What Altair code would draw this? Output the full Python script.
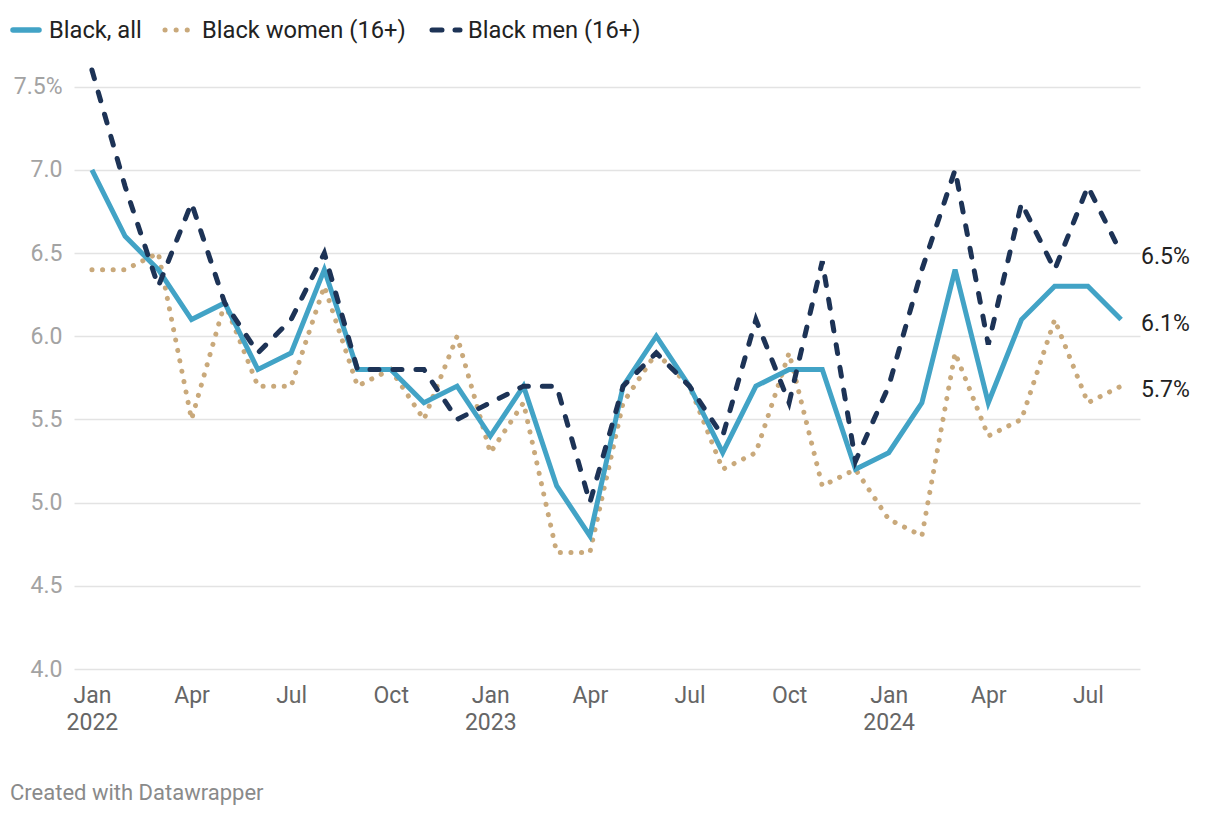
import json
import altair as alt
import pandas as pd

# ---------------- data ----------------
month_index = list(range(32))  # Jan 2022 ... Aug 2024

black_all = [7.0, 6.6, 6.4, 6.1, 6.2, 5.8, 5.9, 6.4, 5.8, 5.8, 5.6, 5.7,
             5.4, 5.7, 5.1, 4.8, 5.7, 6.0, 5.7, 5.3, 5.7, 5.8, 5.8, 5.2,
             5.3, 5.6, 6.4, 5.6, 6.1, 6.3, 6.3, 6.1]
black_women = [6.4, 6.4, 6.5, 5.5, 6.2, 5.7, 5.7, 6.3, 5.7, 5.8, 5.5, 6.0,
               5.3, 5.6, 4.7, 4.7, 5.6, 5.9, 5.7, 5.2, 5.3, 5.9, 5.1, 5.2,
               4.9, 4.8, 5.9, 5.4, 5.5, 6.1, 5.6, 5.7]
black_men = [7.6, 6.9, 6.3, 6.8, 6.2, 5.9, 6.1, 6.5, 5.8, 5.8, 5.8, 5.5,
             5.6, 5.7, 5.7, 5.0, 5.7, 5.9, 5.7, 5.4, 6.1, 5.6, 6.45, 5.25,
             5.7, 6.4, 7.0, 5.95, 6.8, 6.4, 6.9, 6.5]

series_names = ["Black, all", "Black women (16+)", "Black men (16+)"]

tick_values = [0, 3, 6, 9, 12, 15, 18, 21, 24, 27, 30]
tick_month = ["Jan", "Apr", "Jul", "Oct", "Jan", "Apr", "Jul", "Oct", "Jan", "Apr", "Jul"]
tick_year = ["2022", "", "", "", "2023", "", "", "", "2024", "", ""]
y_ticks = [4.0, 4.5, 5.0, 5.5, 6.0, 6.5, 7.0, 7.5]
credit_text = "Created with Datawrapper"

# ---------------- tables ----------------
rows = []
for name, vals in zip(series_names, [black_all, black_women, black_men]):
    for i, v in zip(month_index, vals):
        rows.append({"series": name, "m": i, "v": v})
df = pd.DataFrame(rows)

end_rows = []
for name, vals in zip(series_names, [black_all, black_women, black_men]):
    end_rows.append({"series": name, "m": month_index[-1], "v": vals[-1],
                     "label": f"{vals[-1]:.1f}%"})
df_end = pd.DataFrame(end_rows)

FONT = "Roboto"
C_ALL = "#42a3c6"
C_WOMEN = "#c9a97b"
C_MEN = "#1d3356"

x_scale = alt.Scale(domain=[-0.54, 31.57], nice=False, zero=False)
y_scale = alt.Scale(domain=[4.0, 7.6], nice=False, zero=False)

month_js = json.dumps(tick_month)
year_js = json.dumps(tick_year)
x_label_expr = (f"{year_js}[datum.value/3] != '' ? "
                f"[{month_js}[datum.value/3], {year_js}[datum.value/3]] : "
                f"{month_js}[datum.value/3]")

x_axis = alt.Axis(values=tick_values, labelExpr=x_label_expr, title=None,
                  grid=False, domain=False, ticks=False, labelPadding=15,
                  labelFontSize=23, labelColor="#666666", labelFont=FONT,
                  labelLineHeight=27, labelFlush=False, labelOverlap=False)
y_axis = alt.Axis(values=y_ticks,
                  labelExpr="datum.value == 7.5 ? '7.5%' : format(datum.value, '.1f')",
                  title=None, grid=True, gridColor="#e3e3e3", gridWidth=1.6,
                  domain=False, ticks=False, labelPadding=12,
                  labelFontSize=23, labelColor="#a3a3a3", labelFont=FONT)

X = alt.X("m:Q", scale=x_scale, axis=x_axis)
Y = alt.Y("v:Q", scale=y_scale, axis=y_axis)

base = alt.Chart(df)

line_women = base.transform_filter(alt.datum.series == series_names[1]).mark_line(
    color=C_WOMEN, strokeWidth=5, strokeDash=[0.1, 10.5], strokeCap="round"
).encode(x=X, y=Y)

line_all = base.transform_filter(alt.datum.series == series_names[0]).mark_line(
    color=C_ALL, strokeWidth=5
).encode(x=X, y=Y)

line_men = base.transform_filter(alt.datum.series == series_names[2]).mark_line(
    color=C_MEN, strokeWidth=5, strokeDash=[9, 14], strokeCap="round"
).encode(x=X, y=Y)

end_labels = alt.Chart(df_end).mark_text(
    align="left", baseline="middle", dx=20, dy=4, fontSize=23, font=FONT, color="#222222"
).encode(x=X, y=Y, text="label:N")

one = alt.Data(values=[{}])

def leg_rule(x1, x2, color, width, dash=None):
    kw = dict(color=color, strokeWidth=width, strokeCap="round")
    if dash is not None:
        kw["strokeDash"] = dash
    return alt.Chart(one).mark_rule(**kw).encode(
        x=alt.value(x1), x2=alt.value(x2), y=alt.value(-40))

def leg_text(x, txt):
    return alt.Chart(one).mark_text(
        align="left", baseline="middle", fontSize=23.7, font=FONT, color="#222222", text=txt
    ).encode(x=alt.value(x), y=alt.value(-39))

legend = [
    leg_rule(-61, -35, C_ALL, 5.5),
    leg_text(-25, series_names[0]),
    leg_rule(91, 114, C_WOMEN, 5, [0.1, 11]),
    leg_text(128, series_names[1]),
    leg_rule(358, 386, C_MEN, 5, [10, 13]),
    leg_text(394, series_names[2]),
]

credit = alt.Chart(one).mark_text(
    align="left", baseline="middle", fontSize=22, font=FONT, color="#8a8a8a", text=credit_text
).encode(x=alt.value(-64), y=alt.value(723))

chart = alt.layer(line_women, line_all, line_men, end_labels, *legend, credit).properties(
    width=1066, height=599,
    autosize=alt.AutoSizeParams(type="none"),
    padding={"left": 66, "top": 62, "right": 72, "bottom": 139},
).configure(
    font=FONT, background="white",
    view=alt.ViewConfig(stroke="transparent", strokeWidth=0),
)

chart.save("out.html", embed_options={"renderer": "svg", "actions": False})
